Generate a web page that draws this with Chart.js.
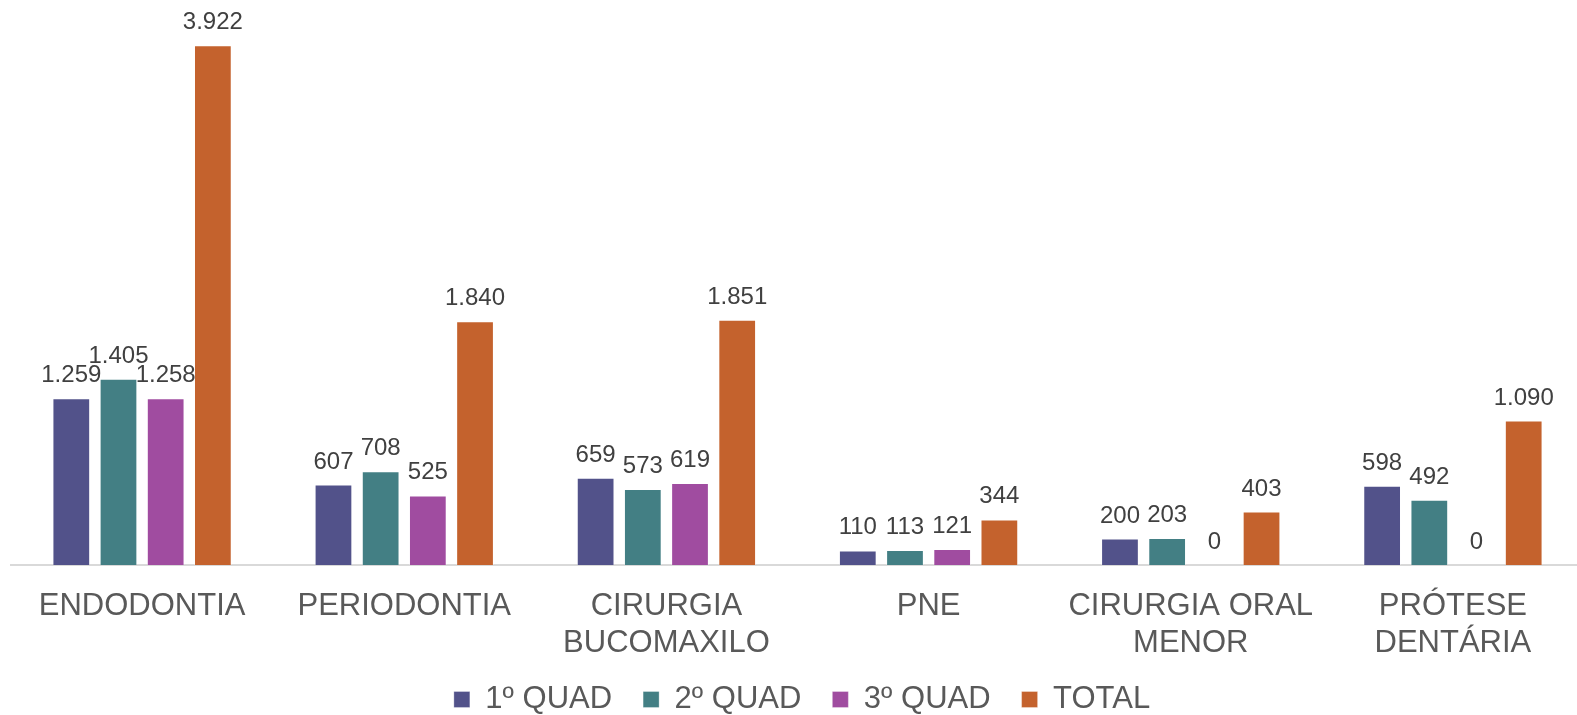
<!DOCTYPE html>
<html>
<head>
<meta charset="utf-8">
<script src="https://cdn.jsdelivr.net/npm/chart.js@4/dist/chart.umd.min.js"></script>
<style>
  html, body { margin: 0; padding: 0; background: #fff; }
  #wrap { width: 1577px; height: 715px; }
</style>
</head>
<body>
<div id="wrap"><canvas id="bar-chart" width="1577" height="715"></canvas></div>
<script>
// dados
const categorias = [
  ["ENDODONTIA"],
  ["PERIODONTIA"],
  ["CIRURGIA", "BUCOMAXILO"],
  ["PNE"],
  ["CIRURGIA ORAL", "MENOR"],
  ["PRÓTESE", "DENTÁRIA"]
];
const quad1 = [1259, 607, 659, 110, 200, 598];
const quad2 = [1405, 708, 573, 113, 203, 492];
const quad3 = [1258, 525, 619, 121, 0, 0];
const total = [3922, 1840, 1851, 344, 403, 1090];
const nomesSeries = ["1º QUAD", "2º QUAD", "3º QUAD", "TOTAL"];
const cores = ["#52528A", "#437F84", "#A04CA0", "#C4622D"];

// plugin simples para rótulos de dados
const rotulos = {
  id: "rotulos",
  afterDatasetsDraw(chart) {
    const ctx = chart.ctx;
    ctx.save();
    ctx.font = "24px 'Liberation Sans', Arial, sans-serif";
    ctx.fillStyle = "#404040";
    ctx.textAlign = "center";
    ctx.textBaseline = "alphabetic";
    chart.data.datasets.forEach((ds, i) => {
      chart.getDatasetMeta(i).data.forEach((bar, j) => {
        const txt = ds.data[j].toLocaleString("pt-BR");
        ctx.fillText(txt, bar.x, bar.y - 16);
      });
    });
    ctx.restore();
  }
};

// o eixo x do original passa um pouco da borda direita
const alargarEixo = {
  id: "alargarEixo",
  afterLayout(chart) {
    const s = chart.scales.x;
    s.right = s.left + 1573;
    s.width = 1573;
    s.configure();
    // legenda um pouco para a direita, como no original
    chart.legend.left += 8;
    chart.legend.right += 8;
  }
};

const series = [quad1, quad2, quad3, total];
const dataset = series.map((d, i) => ({
  label: nomesSeries[i],
  data: d,
  backgroundColor: cores[i],
  borderColor: "rgba(255,255,255,0.3)",
  borderWidth: 1,
  categoryPercentage: 0.72,
  barPercentage: 0.8,
}));

Chart.defaults.font.family = "'Liberation Sans', Arial, sans-serif";

new Chart(document.getElementById("bar-chart").getContext("2d"), {
  type: "bar",
  data: { labels: categorias, datasets: dataset },
  options: {
    responsive: false,
    animation: false,
    layout: { padding: { top: 35, left: 11, right: 0, bottom: -10 } },
    plugins: {
      tooltip: { enabled: false },
      legend: {
        position: "bottom",
        labels: {
          color: "#595959",
          font: { size: 31 },
          boxWidth: 16,
          boxHeight: 16,
          padding: 31,
        },
      },
    },
    scales: {
      x: {
        grid: { display: false },
        border: { color: "#d9d9d9", width: 2 },
        ticks: {
          color: "#595959",
          font: { size: 31, lineHeight: 1.19 },
          padding: 15,
          maxRotation: 0,
        },
        afterFit(scale) {
          scale.height = 88;
        },
      },
      y: {
        display: false,
        min: 0,
        max: 4000,
      },
    },
  },
  plugins: [rotulos, alargarEixo],
});
</script>
</body>
</html>
